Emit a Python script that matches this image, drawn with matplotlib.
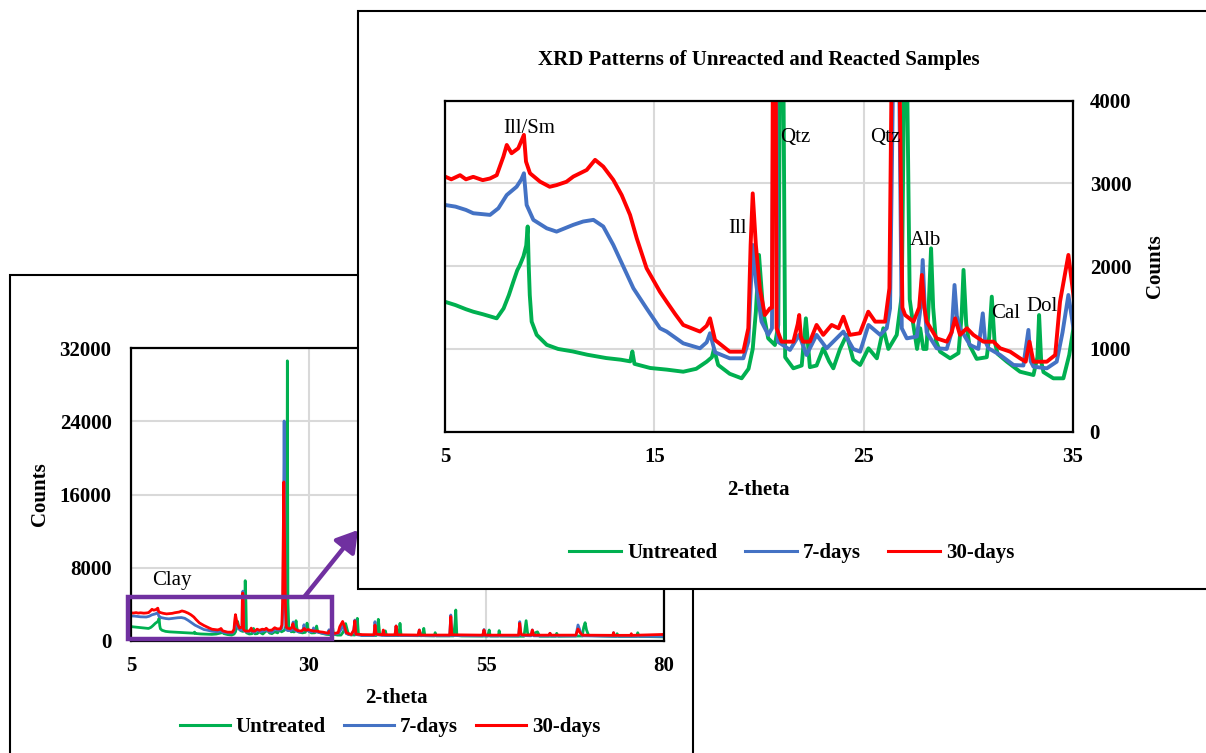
import matplotlib
matplotlib.use("Agg")
import matplotlib.pyplot as plt
from matplotlib.patches import Rectangle, FancyArrowPatch

# ---------------- data ----------------
series_names = ["Untreated", "7-days", "30-days"]
series_colors = ["#00B050", "#4472C4", "#FF0000"]

theta_untreated = [5.0, 5.5, 6.0, 6.35, 6.8, 7.2, 7.47, 7.8, 8.05, 8.26, 8.45, 8.58, 8.75, 8.88, 8.95, 9.0, 9.05,
                   9.14, 9.38, 9.86, 10.4, 11.1, 11.8, 12.7, 13.4, 13.85, 13.95, 14.05, 14.8, 15.6, 16.38, 17.0,
                   17.5, 17.75, 17.85, 18.05, 18.6, 19.17, 19.5, 19.7, 19.85, 20.0, 20.2, 20.44, 20.76, 20.92,
                   21.0, 21.07, 21.17, 21.25, 21.64, 22.04, 22.24, 22.43, 22.75, 23.07, 23.35, 23.55, 23.87,
                   24.19, 24.5, 24.83, 25.23, 25.63, 25.94, 26.18, 26.58, 26.82, 26.93, 27.0, 27.08, 27.2,
                   27.3, 27.55, 27.7, 27.85, 28.0, 28.12, 28.22, 28.32, 28.45, 28.65, 29.13, 29.53, 29.68,
                   29.77, 29.9, 30.05, 30.4, 30.88, 31.0, 31.12, 31.25, 31.4, 31.84, 32.47, 33.11, 33.3, 33.38,
                   33.48, 33.59, 34.06, 34.54, 34.82, 35.02, 35.2, 35.6, 36.5, 36.75, 36.85, 37.0, 37.5, 39.5,
                   39.7, 39.8, 40.0, 40.7, 40.8, 40.95, 42.6, 42.8, 42.85, 43.0, 45.9, 46.1, 46.2, 46.35, 47.7,
                   47.8, 47.95, 50.4, 50.6, 50.7, 50.85, 51.5, 55.2, 55.4, 55.55, 56.7, 56.8, 56.95, 60.3, 60.5,
                   60.6, 60.8, 61.0, 62.2, 62.5, 64.8, 64.9, 65.1, 68.5, 68.7, 68.9, 69.1, 69.4, 73.3, 73.4,
                   73.6, 76.2, 76.3, 76.5, 80.0]
counts_untreated = [1570, 1530, 1480, 1450, 1420, 1390, 1370, 1490, 1650, 1810, 1950, 2015, 2120, 2250, 2480, 2000,
                    1650, 1330, 1170, 1050, 1000, 970, 930, 890, 870, 850, 970, 820, 770, 750, 725, 760, 846, 900,
                    1000, 806, 700, 645, 760, 1000, 1450, 2136, 1450, 1128, 1048, 1290, 4200, 6590, 4200, 900,
                    766, 800, 1370, 780, 800, 1008, 850, 766, 1000, 1170, 870, 806, 1008, 887, 1250, 1000, 1170,
                    1650, 4200, 30600, 4200, 1600, 1410, 1000, 1250, 1000, 1000, 1600, 2216, 1500, 1100, 967,
                    887, 950, 1400, 1955, 1300, 1050, 880, 900, 1150, 1632, 1100, 940, 846, 725, 685, 900, 1410,
                    850, 720, 645, 645, 927, 1250, 1900, 700, 650, 1500, 2475, 800, 600, 600, 1500, 2370, 700,
                    650, 1100, 600, 600, 1400, 1930, 600, 580, 1000, 1380, 580, 560, 910, 560, 560, 2000, 3385,
                    600, 550, 540, 1200, 540, 540, 1130, 540, 520, 1600, 2220, 900, 600, 1000, 520, 520, 840,
                    520, 550, 1500, 2000, 1200, 600, 500, 800, 500, 500, 900, 500, 450]

theta_7days = [5.0, 5.5, 6.0, 6.35, 7.15, 7.55, 7.95, 8.42, 8.65, 8.77, 8.9, 9.22, 9.86, 10.33, 11.13, 11.6, 12.09,
               12.56, 13.04, 13.52, 14.0, 14.63, 15.27, 15.59, 16.38, 17.18, 17.5, 17.66, 17.9, 18.6, 19.25,
               19.49, 19.6, 19.7, 19.85, 20.12, 20.44, 20.62, 20.68, 20.75, 20.82, 20.9, 21.48, 21.92, 22.27,
               22.75, 23.23, 24.03, 24.5, 24.83, 25.23, 25.79, 26.1, 26.26, 26.4, 26.55, 26.7, 26.82, 27.06,
               27.54, 27.72, 27.82, 27.92, 28.01, 28.49, 28.97, 29.2, 29.34, 29.45, 29.6, 30.08, 30.48, 30.69,
               30.8, 30.96, 31.52, 32.16, 32.63, 32.87, 32.98, 33.11, 33.75, 34.22, 34.5, 34.78, 35.02, 35.3,
               36.0, 36.35, 36.5, 36.65, 37.5, 39.2, 39.33, 39.5, 40.4, 40.5, 40.65, 42.15, 42.3, 42.45, 45.4,
               45.57, 45.75, 49.85, 50.0, 50.15, 54.5, 54.67, 54.85, 59.55, 59.7, 59.85, 60.0, 61.3, 61.47,
               61.65, 63.8, 63.96, 64.1, 67.6, 67.9, 68.2, 68.5, 72.8, 72.9, 73.0, 80.0]
counts_7days = [2740, 2720, 2680, 2640, 2620, 2700, 2860, 2960, 3050, 3123, 2740, 2560, 2458, 2418, 2500, 2540,
                2560, 2480, 2257, 1995, 1733, 1490, 1250, 1210, 1068, 1008, 1080, 1190, 960, 887, 887, 1088,
                1700, 2257, 1814, 1330, 1170, 1250, 4200, 5450, 4200, 1088, 988, 1170, 927, 1170, 1008, 1210,
                1000, 967, 1290, 1170, 1250, 1490, 4200, 24030, 4200, 1250, 1128, 1150, 1500, 2075, 1500, 1200,
                1008, 1000, 1200, 1773, 1400, 1250, 1048, 1000, 1430, 1100, 1008, 927, 806, 800, 1230, 850, 786,
                766, 846, 1200, 1652, 1250, 800, 650, 1200, 2290, 700, 600, 600, 2110, 700, 600, 1100, 600, 600,
                1640, 600, 580, 1200, 580, 570, 2840, 600, 560, 1250, 560, 550, 2110, 800, 600, 560, 1200, 560,
                550, 850, 550, 550, 1750, 1100, 560, 520, 900, 520, 500]

theta_30days = [5.0, 5.3, 5.72, 6.0, 6.35, 6.8, 7.15, 7.47, 7.79, 7.95, 8.18, 8.5, 8.77, 8.87, 9.06, 9.54, 10.0,
                10.33, 10.8, 11.13, 11.77, 12.17, 12.56, 13.04, 13.44, 13.84, 14.16, 14.63, 15.27, 15.59, 16.0,
                16.38, 17.18, 17.5, 17.66, 17.9, 18.6, 19.25, 19.49, 19.6, 19.7, 19.85, 20.04, 20.28, 20.52,
                20.62, 20.66, 20.72, 20.8, 20.84, 21.08, 21.64, 21.85, 21.92, 22.0, 22.1, 22.43, 22.75, 23.07,
                23.47, 23.8, 24.03, 24.34, 24.82, 25.22, 25.55, 26.02, 26.23, 26.33, 26.5, 26.72, 26.85, 26.98,
                27.38, 27.65, 27.78, 27.9, 28.01, 28.49, 28.97, 29.2, 29.37, 29.6, 29.93, 30.24, 30.72, 31.2,
                31.52, 32.0, 32.47, 32.74, 32.92, 33.11, 33.75, 34.15, 34.38, 34.78, 35.02, 35.3, 36.0, 36.35,
                36.5, 36.65, 37.5, 39.2, 39.33, 39.5, 40.4, 40.5, 40.65, 42.15, 42.3, 42.45, 45.4, 45.57, 45.75,
                49.85, 50.0, 50.15, 54.5, 54.67, 54.85, 59.55, 59.7, 59.85, 60.0, 61.3, 61.47, 61.65, 63.8,
                63.96, 64.1, 67.6, 67.9, 68.2, 68.5, 72.8, 72.9, 73.0, 75.3, 75.4, 75.5, 80.0]
counts_30days = [3083, 3050, 3100, 3050, 3080, 3040, 3060, 3100, 3325, 3465, 3365, 3425, 3587, 3264, 3123, 3022,
                 2960, 2980, 3020, 3083, 3163, 3285, 3204, 3043, 2860, 2620, 2337, 1975, 1690, 1570, 1420, 1290,
                 1210, 1280, 1370, 1108, 967, 967, 1250, 2257, 2880, 2257, 1733, 1410, 1490, 1500, 4300, 5240,
                 4300, 1250, 1088, 1088, 1300, 1410, 1150, 1088, 1088, 1290, 1170, 1290, 1250, 1390, 1170, 1190,
                 1450, 1330, 1330, 1733, 4200, 17370, 4200, 1500, 1410, 1330, 1500, 1894, 1500, 1330, 1128, 1088,
                 1200, 1370, 1170, 1250, 1170, 1088, 1088, 1008, 967, 887, 846, 1088, 846, 846, 927, 1572, 2136,
                 1650, 900, 700, 1200, 2200, 750, 700, 680, 1750, 750, 680, 1200, 680, 680, 1640, 680, 650, 1200,
                 650, 650, 2660, 680, 640, 1200, 640, 640, 1930, 900, 660, 650, 1200, 640, 640, 840, 640, 640,
                 1310, 900, 640, 620, 910, 620, 620, 800, 620, 720]

series_theta = [theta_untreated, theta_7days, theta_30days]
series_counts = [counts_untreated, counts_7days, counts_30days]

# annotation labels (text, 2-theta, counts) for the zoomed panel
peak_labels = ["Ill/Sm", "Qtz", "Qtz", "Ill", "Alb", "Cal", "Dol"]
peak_label_theta = [9.0, 21.75, 26.05, 18.95, 27.95, 31.78, 33.5]
peak_label_counts = [3670, 3550, 3550, 2460, 2315, 1433, 1518]

full_xticks = [5, 30, 55, 80]
full_yticks = [0, 8000, 16000, 24000, 32000]
zoom_xticks = [5, 15, 25, 35]
zoom_yticks = [0, 1000, 2000, 3000, 4000]

# ---------------- figure ----------------
W, H = 1206, 753
fig = plt.figure(figsize=(W / 100, H / 100), dpi=100)
fig.patch.set_facecolor("white")

SERIF = "Liberation Serif"
FS = 15
GRID = "#D9D9D9"
PURPLE = "#7030A0"


def fx(px):
    return px / W


def fy(py):
    return 1 - py / H


def frame(x0, y0, x1, y1, z):
    r = Rectangle((fx(x0), fy(y1)), fx(x1) - fx(x0), fy(y0) - fy(y1), transform=fig.transFigure,
                  facecolor="white", edgecolor="black", lw=1.5, zorder=z, clip_on=False)
    fig.patches.append(r)


def style_axes(ax):
    ax.set_axisbelow(True)
    ax.grid(True, color=GRID, lw=1.5)
    for s in ax.spines.values():
        s.set_color("black")
        s.set_linewidth(1.6)
    ax.tick_params(length=0)
    for lab in ax.get_xticklabels() + ax.get_yticklabels():
        lab.set_fontfamily(SERIF)
        lab.set_fontweight("bold")
        lab.set_fontsize(FS)


# back panel frame
frame(10, 275, 693, 770, 1)

# back (full-range) axes
ax1 = fig.add_axes([fx(131), fy(641), fx(664) - fx(131), fy(348) - fy(641)], zorder=2)
for th, ct, c, n in zip(series_theta, series_counts, series_colors, series_names):
    ax1.plot(th, ct, color=c, lw=2.0, label=n, solid_joinstyle="round")
ax1.set_xlim(5, 80)
ax1.set_ylim(0, 32000)
ax1.set_xticks(full_xticks)
ax1.set_yticks(full_yticks)
ax1.tick_params(axis="x", pad=11)
ax1.tick_params(axis="y", pad=14)
style_axes(ax1)
ax1.set_xlabel("2-theta", fontfamily=SERIF, fontweight="bold", fontsize=FS)
ax1.xaxis.set_label_coords((396 - 131) / 533, (641 - 698) / 293)
ax1.xaxis.label.set_va("center")
ax1.set_ylabel("Counts", fontfamily=SERIF, fontweight="bold", fontsize=FS)
ax1.yaxis.set_label_coords((40 - 131) / 533, (641 - 494) / 293)
ax1.yaxis.label.set_va("center")
ax1.text(10.77, 6660, "Clay", fontfamily=SERIF, fontsize=FS, ha="center", va="center")
leg1 = ax1.legend(loc="center", bbox_to_anchor=((390 - 131) / 533, (641 - 727) / 293), ncol=3, frameon=False,
                  handlelength=2.4, handletextpad=0.3, columnspacing=0.85,
                  prop={"family": SERIF, "weight": "bold", "size": FS})
for l in leg1.get_lines():
    l.set_linewidth(2.2)

# purple highlight rectangle and arrow
rect = Rectangle((fx(128), fy(639)), fx(332) - fx(128), fy(597) - fy(639), transform=fig.transFigure,
                 facecolor="none", edgecolor=PURPLE, lw=3.2, zorder=3, clip_on=False)
fig.patches.append(rect)
arrow = FancyArrowPatch((fx(305), fy(596)), (fx(358), fy(530)), transform=fig.transFigure,
                        arrowstyle="-|>,head_length=0.9,head_width=0.55", mutation_scale=14,
                        color=PURPLE, lw=3.2, zorder=3, shrinkA=0, shrinkB=0)
fig.patches.append(arrow)

# front panel frame
frame(358, 11, 1230, 589, 4)

# front (zoomed) axes
ax2 = fig.add_axes([fx(445), fy(431.7), fx(1073) - fx(445), fy(100.7) - fy(431.7)], zorder=5)
for th, ct, c, n in zip(series_theta, series_counts, series_colors, series_names):
    ax2.plot(th, ct, color=c, lw=2.8, label=n, solid_joinstyle="round")
ax2.set_xlim(5, 35)
ax2.set_ylim(0, 4000)
ax2.set_xticks(zoom_xticks)
ax2.set_yticks(zoom_yticks)
ax2.yaxis.tick_right()
ax2.tick_params(axis="x", pad=11)
ax2.tick_params(axis="y", pad=12)
style_axes(ax2)
ax2.set_title("XRD Patterns of Unreacted and Reacted Samples", fontfamily=SERIF, fontweight="bold",
              fontsize=FS, y=(431.7 - 60) / 331, va="center", pad=0)
ax2.set_xlabel("2-theta", fontfamily=SERIF, fontweight="bold", fontsize=FS)
ax2.xaxis.set_label_coords((758 - 445) / 628, (431.7 - 490) / 331)
ax2.xaxis.label.set_va("center")
ax2.yaxis.set_label_position("right")
ax2.set_ylabel("Counts", fontfamily=SERIF, fontweight="bold", fontsize=FS, rotation=90)
ax2.yaxis.set_label_coords((1155 - 445) / 628, (431.7 - 266) / 331)
ax2.yaxis.label.set_va("center")
for t, x, y in zip(peak_labels, peak_label_theta, peak_label_counts):
    ax2.text(x, y, t, fontfamily=SERIF, fontsize=FS, ha="center", va="center")
leg2 = ax2.legend(loc="center", bbox_to_anchor=((792 - 445) / 628, (431.7 - 553) / 331), ncol=3, frameon=False,
                  handlelength=2.5, handletextpad=0.3, columnspacing=1.3,
                  prop={"family": SERIF, "weight": "bold", "size": FS})
for l in leg2.get_lines():
    l.set_linewidth(2.2)

fig.savefig("out.png", dpi=100, facecolor="white")
